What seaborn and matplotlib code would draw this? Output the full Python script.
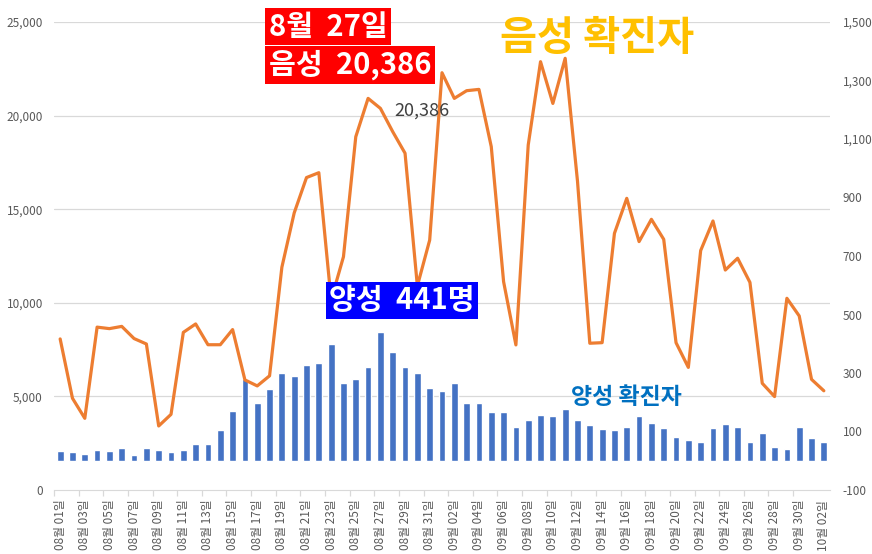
import numpy as np
import pandas as pd
import matplotlib.pyplot as plt
import matplotlib.transforms as mtransforms
import seaborn as sns

# 날짜 (08/01 ~ 10/02)
dates = pd.date_range('2020-08-01', '2020-10-02').strftime('%m월 %d일').tolist()

# 음성 (왼쪽 축)
negative = [8070, 4900, 3830, 8700, 8620, 8740, 8090, 7800, 3420, 4040,
            8420, 8870, 7760, 7760, 8570, 5880, 5560, 6100, 11900, 14800,
            16690, 16950, 10150, 12460, 18870, 20920, 20386, 19140, 17990, 10900,
            13350, 22290, 20920, 21330, 21400, 18340, 11130, 7750, 18430, 22880,
            20650, 23060, 16500, 7840, 7870, 13710, 15580, 13270, 14460, 13390,
            7870, 6550, 12790, 14370, 11750, 12380, 11090, 5700, 4990, 10240,
            9300, 5910, 5300]

# 양성 (오른쪽 축)
positive = [34, 31, 23, 38, 34, 43, 19, 43, 38, 30,
            38, 56, 56, 106, 169, 279, 197, 246, 300, 289,
            326, 333, 399, 266, 279, 322, 441, 372, 322, 300,
            248, 237, 266, 197, 197, 166, 166, 117, 138, 157,
            154, 178, 138, 121, 108, 105, 115, 154, 129, 112,
            82, 72, 63, 112, 125, 115, 63, 96, 48, 39,
            115, 79, 63]

left_ticks = list(range(0, 25001, 5000))
right_ticks = list(range(-100, 1501, 200))

sns.set_style('white')
plt.rcParams['font.family'] = ['Noto Sans CJK KR', 'DejaVu Sans']

W, H = 872, 554
fig = plt.figure(figsize=(W / 100, H / 100), dpi=100)
ax = fig.add_axes([54 / W, 64 / H, 776 / W, 468 / H])
ax2 = ax.twinx()

idx = np.arange(len(dates))
sns.barplot(x=idx, y=positive, ax=ax2, color='#4472C4', width=0.55, saturation=1)
sns.lineplot(x=idx, y=negative, ax=ax, color='#ED7D31', lw=2.3)

# 선이 막대 위로
ax.set_zorder(ax2.get_zorder() + 1)
ax.patch.set_visible(False)

ax.set_ylim(0, 25000)
ax2.set_ylim(-100, 1500)
ax.set_xlim(-0.5, len(dates) - 0.5)

# 눈금선 (왼쪽 축 기준, 막대 뒤)
trans = mtransforms.blended_transform_factory(ax2.transAxes, ax.transData)
for v in left_ticks[1:]:
    ax2.plot([0, 1], [v, v], transform=trans, color='#D9D9D9', lw=0.9, zorder=0.5)

for a in (ax, ax2):
    for s in ['top', 'left', 'right']:
        a.spines[s].set_visible(False)
ax2.spines['bottom'].set_visible(False)
ax.spines['bottom'].set_color('#D9D9D9')

ax.set_yticks(left_ticks)
ax.set_yticklabels([f'{v:,}' for v in left_ticks])
ax2.set_yticks(right_ticks)
ax2.set_yticklabels([f'{v:,}' for v in right_ticks])
ax.tick_params(axis='y', length=0, pad=8, labelsize=8.5, labelcolor='#595959')
ax2.tick_params(axis='y', length=0, pad=9, labelsize=8.5, labelcolor='#595959')

ax.set_xticks(idx[::2])
ax.set_xticklabels(dates[::2], rotation=90)
ax.set_xticks(idx[::2][:-1] - 0.5, minor=True)
ax.tick_params(axis='x', which='major', length=0, pad=7, labelsize=8.5, labelcolor='#595959')
ax.tick_params(axis='x', which='minor', length=4, color='#D9D9D9', width=0.9, bottom=True)
ax.set_xlabel('')
ax.set_ylabel('')
ax2.set_ylabel('')

# 주석
ax.annotate(f'{negative[26]:,}', xy=(26, negative[26]), xytext=(41, -2),
            textcoords='offset pixels', ha='center', va='center',
            fontsize=13, color='#404040')


def ftext(x, y, s, **kw):
    fig.text(x / W, 1 - y / H, s, **kw)


red = dict(boxstyle='square,pad=0.12', fc='#FF0000', ec='none')
ftext(268.5, 11.5, '8월  27일', ha='left', va='top', fontsize=21, fontweight='bold',
      color='white', bbox=red)
ftext(268.5, 49.5, '음성  20,386', ha='left', va='top', fontsize=21, fontweight='bold',
      color='white', bbox=red)
blue = dict(boxstyle='square,pad=0.12', fc='#0000FF', ec='none')
ftext(329, 285.5, '양성  441명', ha='left', va='top', fontsize=21, fontweight='bold',
      color='white', bbox=blue)

ftext(597, 39, '음성 확진자', ha='center', va='center', fontsize=29,
      fontweight='bold', color='#FFC000')
ftext(626, 397, '양성 확진자', ha='center', va='center', fontsize=16.5,
      fontweight='bold', color='#0070C0')

fig.savefig('out.png', dpi=100)
